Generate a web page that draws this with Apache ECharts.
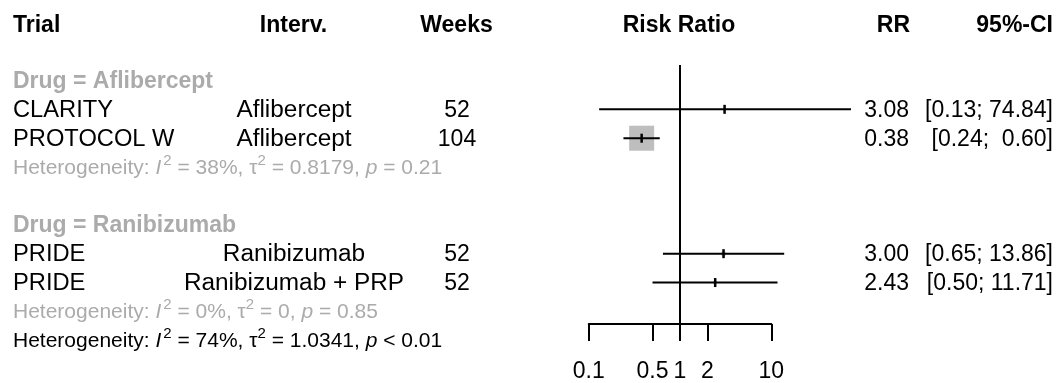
<!DOCTYPE html>
<html><head><meta charset="utf-8">
<script src="https://cdn.jsdelivr.net/npm/echarts@6/dist/echarts.min.js"></script>
<style>html,body{margin:0;padding:0;background:#fff}#c{width:1057px;height:383px}</style>
</head><body><div id="c"></div>
<script>
// ---- data ----
const columnHeaders = ['Trial', 'Interv.', 'Weeks', 'Risk Ratio', 'RR', '95%-CI'];
const trials = ['CLARITY', 'PROTOCOL W', 'PRIDE', 'PRIDE'];
const interventions = ['Aflibercept', 'Aflibercept', 'Ranibizumab', 'Ranibizumab + PRP'];
const weeks = [52, 104, 52, 52];
const rr = [3.08, 0.38, 3.00, 2.43];
const ciLow = [0.13, 0.24, 0.65, 0.50];
const ciHigh = [74.84, 0.60, 13.86, 11.71];
const rrText = ['3.08', '0.38', '3.00', '2.43'];
const ciText = ['[0.13; 74.84]', '[0.24;  0.60]', '[0.65; 13.86]', '[0.50; 11.71]'];
const weightPct = [1.0, 95.0, 2.5, 1.5];
const studyRows = [1, 2, 6, 7];
const groupLabels = ['Drug = Aflibercept', 'Drug = Ranibizumab'];
const groupRows = [0, 5];
const hetI2 = ['38%', '0%', '74%'];
const hetTau2 = ['0.8179', '0', '1.0341'];
const hetP = ['= 0.21', '= 0.85', '< 0.01'];
const hetRows = [3, 8, 9];
const hetIsOverall = [false, false, true];
const tickValues = [0.1, 0.5, 1, 2, 10];
const tickLabels = ['0.1', '0.5', '1', '2', '10'];

// ---- style ----
const FONT = '"Liberation Sans", Arial, sans-serif';
const FS = 23, HFS = 21;
const GRAY = '#ababab', SQ = '#bebebe';
const SX = 1.03;

function richFor(color) {
  return {
    ii: { fontStyle: 'italic', fontSize: HFS, fontFamily: FONT, fill: color, padding: [0, 2, 0, 0] },
    it: { fontStyle: 'italic', fontSize: HFS, fontFamily: FONT, fill: color },
    sup: { fontSize: 15, fontFamily: FONT, fill: color, padding: [0, 0, 15, 0] }
  };
}

const chart = echarts.init(document.getElementById('c'), null, { renderer: 'canvas' });

const studyData = studyRows.map((r, i) => [r, rr[i], ciLow[i], ciHigh[i], weightPct[i]]);

function textEl(x, y, text, align, opts, sx) {
  return {
    type: 'text', x: x, y: y, scaleX: sx || 1,
    style: Object.assign({
      text: text, fontFamily: FONT, fontSize: FS, fill: '#000',
      align: align, verticalAlign: 'middle'
    }, opts || {})
  };
}

const option = {
  animation: false,
  grid: { left: 588.75, width: 182.5, top: 65, height: 259.3, containLabel: false },
  xAxis: {
    type: 'log', logBase: 10, min: 0.1, max: 10, position: 'bottom',
    axisLine: { show: true, onZero: false, lineStyle: { color: '#000', width: 2 } },
    axisTick: { show: true, length: 17, inside: false, customValues: tickValues, lineStyle: { color: '#000', width: 2 } },
    axisLabel: {
      show: true, customValues: tickValues, margin: 36,
      fontFamily: FONT, fontSize: FS, color: '#000',
      formatter: v => { const i = tickValues.findIndex(t => Math.abs(t - v) < 1e-9); return i >= 0 ? tickLabels[i] : ''; }
    },
    splitLine: { show: false }, minorTick: { show: false }
  },
  yAxis: { type: 'value', inverse: true, min: -0.536, max: 8.436, show: false },
  graphic: [
    textEl(13, 26, columnHeaders[0], 'left', { fontWeight: 'bold' }),
    textEl(293.5, 26, columnHeaders[1], 'center', { fontWeight: 'bold' }),
    textEl(456.5, 26, columnHeaders[2], 'center', { fontWeight: 'bold' }),
    textEl(679, 26, columnHeaders[3], 'center', { fontWeight: 'bold' }),
    textEl(910, 26, columnHeaders[4], 'right', { fontWeight: 'bold' }),
    textEl(1053, 26, columnHeaders[5], 'right', { fontWeight: 'bold' })
  ],
  series: [
    {
      type: 'custom', name: 'studies', clip: false,
      encode: { x: [1, 2, 3], y: 0 },
      data: studyData,
      renderItem: function (params, api) {
        const i = params.dataIndex;
        const row = api.value(0);
        const p = api.coord([api.value(1), row]);
        const lo = api.coord([api.value(2), row]);
        const hi = api.coord([api.value(3), row]);
        const side = 25 * Math.sqrt(api.value(4) / 95);
        const y = p[1];
        return {
          type: 'group',
          children: [
            { type: 'rect', shape: { x: p[0] - side / 2, y: y - side / 2, width: side, height: side }, style: { fill: SQ } },
            { type: 'line', shape: { x1: lo[0], y1: y, x2: hi[0], y2: y }, style: { stroke: '#000', lineWidth: 2 } },
            { type: 'line', shape: { x1: p[0], y1: y - 4.5, x2: p[0], y2: y + 4.5 }, style: { stroke: '#000', lineWidth: 2.5 } },
            textEl(13, y + 1, trials[i], 'left', null, SX),
            textEl(294, y + 1, interventions[i], 'center', null, 1.06),
            textEl(457, y + 1, String(weeks[i]), 'center'),
            textEl(909, y + 1, rrText[i], 'right'),
            textEl(1053, y + 1, ciText[i], 'right')
          ]
        };
      },
      markLine: {
        silent: true, symbol: 'none', animation: false,
        label: { show: false },
        lineStyle: { color: '#000', width: 2, type: 'solid' },
        emphasis: { disabled: true },
        data: [{ xAxis: 1 }]
      }
    },
    {
      type: 'custom', name: 'groups', clip: false,
      encode: { y: 0 },
      data: groupRows.map(r => [r]),
      renderItem: function (params, api) {
        const y = api.coord([1, api.value(0)])[1];
        return textEl(13, y + 1, groupLabels[params.dataIndex], 'left', { fontWeight: 'bold', fill: GRAY, fontSize: 23 });
      }
    },
    {
      type: 'custom', name: 'heterogeneity', clip: false,
      encode: { y: 0 },
      data: hetRows.map(r => [r]),
      renderItem: function (params, api) {
        const i = params.dataIndex;
        const y = api.coord([1, api.value(0)])[1];
        const color = hetIsOverall[i] ? '#000' : GRAY;
        const txt = 'Heterogeneity: {ii|I}{sup|2} = ' + hetI2[i] + ', \u03c4{sup|2} = ' + hetTau2[i] + ', {it|p} ' + hetP[i];
        return textEl(13, y + 1, txt, 'left', { fill: color, fontSize: HFS, rich: richFor(color) });
      }
    }
  ]
};
chart.setOption(option);
</script>
</body></html>
